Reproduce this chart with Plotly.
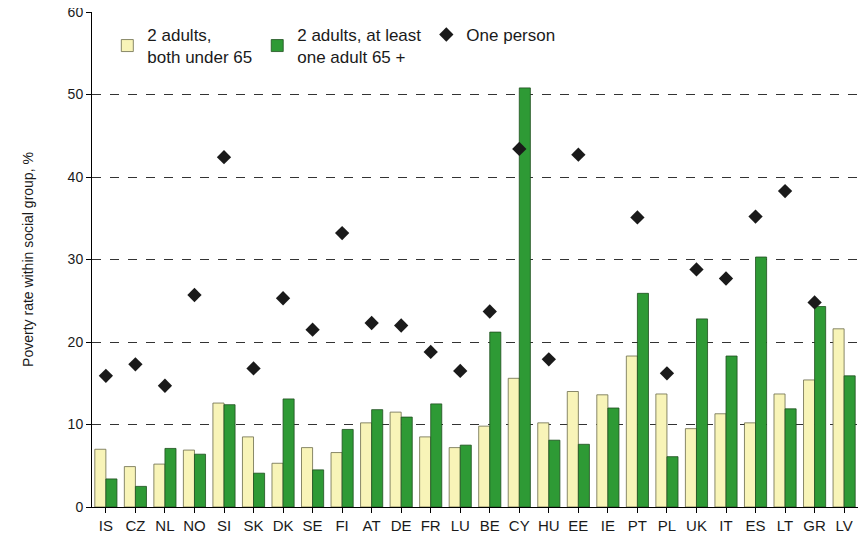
import plotly.graph_objects as go

countries = ["IS","CZ","NL","NO","SI","SK","DK","SE","FI","AT","DE","FR","LU","BE","CY","HU","EE","IE","PT","PL","UK","IT","ES","LT","GR","LV"]
under65 = [7.0,4.9,5.2,6.9,12.6,8.5,5.3,7.2,6.6,10.2,11.5,8.5,7.2,9.8,15.6,10.2,14.0,13.6,18.3,13.7,9.5,11.3,10.2,13.7,15.4,21.6]
over65 = [3.4,2.5,7.1,6.4,12.4,4.1,13.1,4.5,9.4,11.8,10.9,12.5,7.5,21.2,50.8,8.1,7.6,12.0,25.9,6.1,22.8,18.3,30.3,11.9,24.3,15.9]
one_person = [15.9,17.3,14.7,25.7,42.4,16.8,25.3,21.5,33.2,22.3,22.0,18.8,16.5,23.7,43.4,17.9,42.7,None,35.1,16.2,28.8,27.7,35.2,38.3,24.8,None]

fig = go.Figure()
fig.add_trace(go.Bar(x=countries, y=under65, name="2 adults,<br>both under 65",
                     marker=dict(color="#F8F4B8", line=dict(color="#6b6b4a", width=0.8))))
fig.add_trace(go.Bar(x=countries, y=over65, name="2 adults, at least<br>one adult 65 +",
                     marker=dict(color="#2E9A35", line=dict(color="#1f4f1f", width=0.8))))
fig.add_trace(go.Scatter(x=countries, y=one_person, name="One person", mode="markers",
                         marker=dict(symbol="diamond", size=11, color="#1a1a1a")))

fig.update_layout(
    width=850, height=534, barmode="group", bargap=0.25, bargroupgap=0,
    plot_bgcolor="white", paper_bgcolor="white",
    margin=dict(l=84, r=0, t=4, b=35),
    font=dict(family="Liberation Sans", size=15, color="#1a1a1a"),
    legend=dict(orientation="h", x=0.02, y=0.99, xanchor="left", yanchor="top",
                bgcolor="rgba(0,0,0,0)", font=dict(size=17), traceorder="normal"),
)
fig.update_xaxes(range=[-0.47, 25.47], showline=True, linecolor="black", ticks="outside", ticklen=5,
                 tickcolor="black", tickfont=dict(size=15), automargin=False,
                 ticklabeloverflow="allow")
fig.update_yaxes(range=[0, 60], dtick=10, showline=True, linecolor="black", mirror=False,
                 ticks="outside", ticklen=5, tickcolor="black", automargin=False,
                 ticklabeloverflow="allow",
                 showgrid=True, gridcolor="#333", griddash="dash", gridwidth=0.8,
                 tickfont=dict(size=14),
                 title=dict(text="Poverty rate within social group, %", font=dict(size=14), standoff=30))
fig.write_html("out.html")
